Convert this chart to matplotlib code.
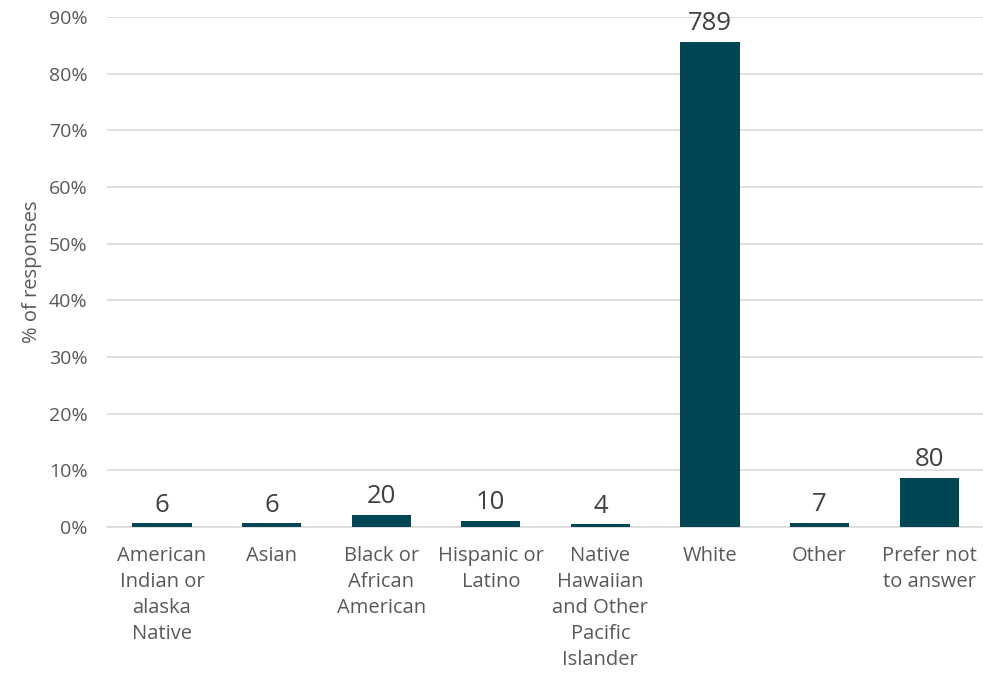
import matplotlib
matplotlib.use('Agg')
import matplotlib.pyplot as plt
from matplotlib.ticker import PercentFormatter

categories = ['American\nIndian or\nalaska\nNative', 'Asian', 'Black or\nAfrican\nAmerican',
              'Hispanic or\nLatino', 'Native\nHawaiian\nand Other\nPacific\nIslander',
              'White', 'Other', 'Prefer not\nto answer']
counts = [6, 6, 20, 10, 4, 789, 7, 80]

total = sum(counts)
shares = [c / total * 100 for c in counts]

plt.rcParams['font.family'] = ['Open Sans', 'DejaVu Sans']

fig = plt.figure(figsize=(9.83, 6.73), dpi=100)
ax = fig.add_axes([0.109, 0.217, 0.892, 0.758])

x = range(len(categories))
bars = ax.bar(x, shares, width=0.54, color='#004655', zorder=3)
for xi, s, c in zip(x, shares, counts):
    ax.text(xi, s + 1.0, str(c), ha='center', va='bottom', fontsize=18.5, color='#404040')

ax.set_xlim(-0.5, len(categories) - 0.5)
ax.set_ylim(0, 90)
ax.set_yticks(range(0, 91, 10))
ax.yaxis.set_major_formatter(PercentFormatter(decimals=0))
ax.set_xticks(list(x))
ax.set_xticklabels(categories, fontsize=14.5, color='#595959', linespacing=1.4, va='top')
ax.tick_params(axis='y', labelsize=14, labelcolor='#595959', length=0, pad=14)
ax.tick_params(axis='x', length=0, pad=14)
ax.grid(axis='y', color='#d9d9d9', linewidth=1.2, zorder=0)
for side in ['top', 'right', 'left']:
    ax.spines[side].set_visible(False)
ax.spines['bottom'].set_color('#d9d9d9')
ax.spines['bottom'].set_linewidth(1.2)
ax.set_ylabel('% of responses', fontsize=14.5, color='#595959', labelpad=5)

fig.savefig('out.png', dpi=100)
